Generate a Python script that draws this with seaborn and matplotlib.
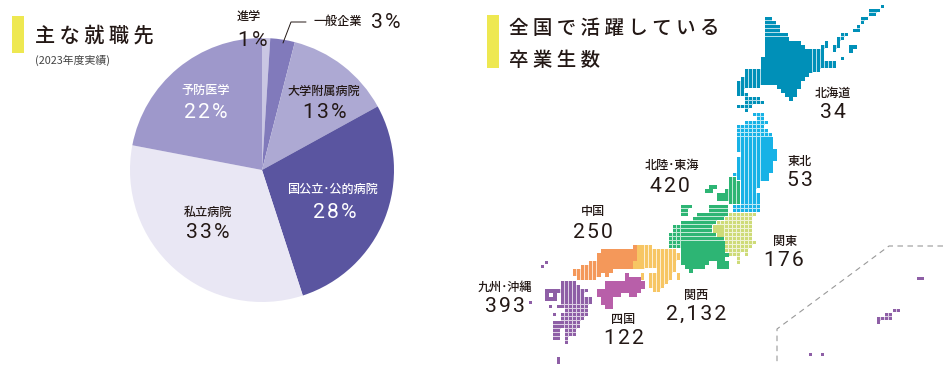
import numpy as np
import seaborn as sns
import matplotlib
matplotlib.use('Agg')
import matplotlib.pyplot as plt
from matplotlib.colors import ListedColormap, to_rgb
from matplotlib.patches import Rectangle

# pie data
job_names = ['進学', '一般企業', '大学附属病院', '国公立･公的病院', '私立病院', '予防医学']
job_share = [1, 3, 13, 28, 33, 22]
job_colors = ['#C9C6E3', '#817ABB', '#ADA9D3', '#5A55A0', '#E9E7F4', '#9E98CB']

# graduates by region
region_names = ['北海道', '東北', '北陸･東海', '中国', '九州･沖縄', '関東', '関西', '四国']
region_counts = ['34', '53', '420', '250', '393', '176', '2,132', '122']

# map cells: (row0, row1, col0, col1, mode)  g=grid h=hbars v=vbars s=solid
hokkaido = [
    (4, 4, 59, 60, 'h'), (5, 5, 59, 61, 'h'), (6, 7, 59, 62, 'h'), (8, 8, 59, 64, 'h'),
    (9, 9, 59, 64, 's'), (10, 10, 59, 67, 's'), (11, 11, 59, 68, 's'), (12, 13, 59, 70, 's'),
    (14, 17, 58, 70, 's'), (18, 18, 58, 69, 's'), (19, 19, 58, 68, 's'), (20, 20, 58, 67, 's'),
    (21, 21, 62, 67, 's'), (22, 22, 63, 66, 's'), (23, 23, 64, 66, 's'), (24, 24, 65, 65, 's'),
    (12, 17, 71, 72, 'v'), (11, 16, 73, 73, 'v'), (10, 11, 74, 74, 'v'), (15, 16, 74, 76, 'v'),
    (11, 12, 76, 76, 'v'), (9, 11, 77, 77, 'v'), (8, 8, 78, 79, 'g'), (9, 9, 78, 78, 'g'),
    (14, 14, 78, 78, 'g'), (11, 11, 80, 81, 's'), (12, 12, 80, 80, 's'), (7, 7, 81, 82, 'h'),
    (6, 6, 82, 82, 'g'), (5, 5, 83, 83, 'g'), (4, 4, 83, 84, 'h'), (3, 3, 85, 86, 'h'),
    (2, 2, 85, 87, 'h'), (1, 1, 88, 88, 'g'),
    (17, 21, 54, 57, 'v'), (19, 23, 53, 53, 'v'), (20, 23, 52, 52, 'v'),
    (23, 24, 54, 54, 'g'), (24, 24, 55, 57, 'g'), (25, 25, 54, 58, 'g'), (26, 26, 52, 55, 'g'),
    (27, 27, 54, 54, 'g'),
]
tohoku = [
    (28, 28, 56, 58, 'g'), (29, 29, 57, 58, 'g'), (30, 30, 54, 59, 'g'), (31, 31, 52, 58, 'g'),
    (32, 32, 52, 59, 'g'), (33, 33, 52, 60, 'g'),
    (34, 37, 52, 52, 'v'), (39, 44, 52, 52, 'v'), (34, 50, 53, 56, 'v'), (34, 46, 57, 57, 'v'),
    (48, 50, 57, 57, 'v'), (34, 36, 58, 60, 's'), (37, 39, 58, 61, 's'), (40, 42, 58, 60, 's'),
    (43, 44, 58, 59, 's'), (43, 43, 51, 51, 'v'), (51, 52, 51, 57, 'g'),
]
chubu = [
    (51, 51, 38, 40, 'h'), (52, 53, 38, 39, 'h'), (51, 52, 45, 49, 'h'), (53, 53, 42, 49, 'h'),
    (54, 54, 41, 48, 'h'), (55, 55, 38, 46, 'h'), (56, 57, 38, 45, 'h'), (58, 58, 38, 46, 'h'),
    (59, 59, 38, 48, 'h'), (56, 57, 36, 37, 'g'), (58, 61, 35, 37, 'g'),
    (60, 62, 38, 48, 's'), (63, 63, 38, 49, 's'), (64, 64, 38, 48, 's'), (65, 65, 38, 44, 's'),
    (65, 65, 47, 49, 's'), (66, 66, 39, 43, 's'), (66, 66, 47, 49, 's'), (67, 67, 40, 40, 's'),
    (44, 50, 50, 51, 'v'), (45, 50, 52, 52, 'v'), (47, 49, 49, 49, 's'), (48, 49, 47, 48, 's'),
    (46, 46, 45, 46, 's'), (47, 47, 44, 45, 's'),
]
kanto = [
    (53, 53, 50, 56, 'g'), (54, 54, 49, 55, 'g'), (55, 55, 47, 55, 'g'), (56, 57, 49, 55, 'g'),
    (56, 57, 46, 48, 's'), (58, 58, 47, 48, 's'), (58, 58, 49, 55, 'g'), (59, 59, 49, 55, 'g'),
    (60, 60, 49, 56, 'g'), (61, 61, 49, 55, 'g'), (62, 62, 49, 54, 'g'), (63, 63, 50, 52, 'g'),
    (63, 63, 54, 54, 'g'), (64, 65, 52, 52, 'g'),
]
kansai = [
    (61, 64, 27, 28, 's'), (65, 66, 26, 28, 's'), (61, 66, 29, 30, 'v'), (62, 66, 31, 31, 'v'),
    (62, 72, 32, 32, 'v'), (62, 71, 33, 33, 'v'), (62, 70, 34, 34, 'v'), (62, 69, 35, 35, 'v'),
    (62, 67, 36, 36, 'v'), (63, 64, 37, 37, 'v'), (68, 69, 37, 37, 'v'),
    (68, 69, 28, 28, 'v'), (68, 71, 30, 30, 'v'), (68, 72, 31, 31, 'v'),
]
chugoku = [
    (61, 61, 26, 26, 's'), (62, 62, 18, 26, 's'), (63, 63, 17, 26, 's'), (64, 64, 17, 26, 's'),
    (65, 66, 17, 25, 's'), (67, 67, 17, 20, 's'), (68, 68, 17, 17, 's'), (68, 68, 19, 19, 's'),
    (67, 68, 11, 11, 'v'), (67, 69, 12, 12, 'v'), (66, 69, 13, 14, 'v'), (65, 69, 15, 16, 'v'),
]
shikoku = [
    (68, 68, 24, 24, 's'), (69, 69, 24, 27, 's'), (70, 71, 19, 28, 's'), (72, 72, 17, 27, 's'),
    (73, 73, 17, 22, 's'), (73, 73, 25, 26, 's'), (74, 75, 18, 20, 's'), (76, 76, 19, 20, 's'),
]
kyushu = [
    (65, 65, 4, 4, 'g'), (66, 66, 3, 3, 'g'), (75, 75, 0, 0, 'g'),
    (70, 72, 8, 8, 'v'), (70, 75, 9, 11, 'v'), (71, 75, 12, 12, 'v'), (72, 75, 13, 13, 'v'),
    (72, 72, 14, 14, 'v'), (74, 75, 14, 15, 'v'),
    (72, 72, 4, 7, 's'), (73, 74, 4, 4, 's'), (73, 74, 6, 6, 's'), (74, 74, 5, 5, 's'),
    (73, 75, 8, 8, 'v'), (76, 76, 5, 5, 'g'), (76, 76, 7, 8, 'h'), (76, 77, 9, 14, 'g'),
    (78, 78, 6, 6, 'g'), (78, 78, 8, 14, 'g'), (79, 79, 8, 13, 'g'), (80, 81, 6, 8, 'h'),
    (80, 81, 9, 12, 'g'), (82, 83, 6, 7, 'h'), (82, 83, 9, 11, 'g'), (84, 84, 6, 7, 'h'),
    (84, 85, 9, 9, 'g'), (89, 90, 7, 7, 'v'),
    (69, 69, 97, 98, 'h'), (77, 77, 91, 92, 'g'), (78, 78, 89, 90, 'g'), (79, 79, 88, 90, 'g'),
    (79, 80, 87, 87, 'v'), (88, 88, 70, 70, 'g'), (88, 88, 73, 73, 'g'),
]
map_regions = [hokkaido, tohoku, chubu, kanto, kansai, chugoku, shikoku, kyushu]
map_colors = ['#0090B8', '#17B2E6', '#2DB574', '#CEDB78', '#F7C664', '#F4985A', '#B85FA9', '#8E5FA6']

W, H = 952, 372
N_ROWS, N_COLS = 92, 101
PX = 4
MAP_X, MAP_Y = 529, 0.7
N_REGIONS = len(map_regions)

sns.set_theme(style='white')
JP = ['Noto Sans CJK JP', 'DejaVu Sans']
NUM = ['Roboto', 'Noto Sans CJK JP', 'DejaVu Sans']
plt.rcParams['font.family'] = JP
INK = '#231815'


def px_axes(fig, x, y, w, h):
    return fig.add_axes([x / W, 1 - (y + h) / H, w / W, h / H])


# expand the cell lists to a pixel raster for the heatmap
cell_id = np.zeros((N_ROWS, N_COLS), dtype=int)
cell_mode = np.full((N_ROWS, N_COLS), '.', dtype='<U1')
for k, runs in enumerate(map_regions, start=1):
    for r0, r1, c0, c1, mode in runs:
        cell_id[r0:r1 + 1, c0:c1 + 1] = k
        cell_mode[r0:r1 + 1, c0:c1 + 1] = mode


def gap_value(r, c, k, m, dr, dc, ok):
    # what goes in the 1px gap towards a neighbour: full colour, a pale tint, or nothing
    rr, cc = r + dr, c + dc
    if rr >= N_ROWS or cc >= N_COLS or cell_id[rr, cc] == 0:
        return k if m == 's' else 0
    if cell_id[rr, cc] == k:
        return k if m in ok and cell_mode[rr, cc] in ok else k + N_REGIONS
    return k if m == 's' else 0


raster = np.zeros((N_ROWS * PX, N_COLS * PX))
for r, c in zip(*np.nonzero(cell_id)):
    k = cell_id[r, c]
    m = cell_mode[r, c]
    y, x = r * PX, c * PX
    raster[y:y + PX - 1, x:x + PX - 1] = k
    right = gap_value(r, c, k, m, 0, 1, 'hs')
    down = gap_value(r, c, k, m, 1, 0, 'vs')
    raster[y:y + PX - 1, x + PX - 1] = right
    raster[y + PX - 1, x:x + PX - 1] = down
    if right and down:
        raster[y + PX - 1, x + PX - 1] = max(right, down)

# gap pixels: region colour washed towards white, the way the source blurs them
tints = [tuple(0.3 * v + 0.7 for v in to_rgb(col)) for col in map_colors]
map_cmap = ListedColormap(map_colors + tints)

fig = plt.figure(figsize=(W / 100, H / 100), dpi=100, facecolor='white')

# pie
ax_pie = px_axes(fig, 130, 38, 264, 264)
ax_pie.pie(job_share, colors=sns.color_palette(job_colors), startangle=90, counterclock=False,
           radius=1.0, wedgeprops={'linewidth': 0})
ax_pie.set_xlim(-1, 1)
ax_pie.set_ylim(-1, 1)

# pixel map
ax_map = px_axes(fig, MAP_X, MAP_Y, N_COLS * PX, N_ROWS * PX)
sns.heatmap(raster, mask=raster == 0, cmap=map_cmap, vmin=0.5, vmax=2 * N_REGIONS + 0.5,
            cbar=False, xticklabels=False, yticklabels=False, ax=ax_map)
ax_map.patch.set_alpha(0)

# overlay in pixel coords for all text
ax = px_axes(fig, 0, 0, W, H)
ax.set_xlim(0, W)
ax.set_ylim(H, 0)
ax.axis('off')

ax.add_patch(Rectangle((12, 16), 12, 37, color='#EEE851', lw=0))
ax.add_patch(Rectangle((487, 15), 12, 53, color='#EEE851', lw=0))
ax.text(35, 36, '主 な 就 職 先', fontsize=14.5, color=INK, va='center', ha='left', weight='medium')
ax.text(35, 60, '(2023年度実績)', fontsize=7.8, color='#444444', va='center', ha='left')
ax.text(509, 28, '全 国 で 活 躍 し て い る', fontsize=14, color=INK, va='center', ha='left', weight='medium')
ax.text(509, 60, '卒 業 生 数', fontsize=14, color=INK, va='center', ha='left', weight='medium')


def label(x, y, name, value, y2, col=INK, x2=None):
    ax.text(x, y, name, fontsize=8.7, color=col, ha='center', va='center', weight='medium')
    ax.text(x if x2 is None else x2, y2, '\u200a'.join(value), fontsize=15.2, color=col, ha='center',
            va='center', family=NUM)


pie_pos = [(249, 16, 253, 40), None, (324, 91, 325, 112), (332, 189, 335, 212), (208, 212, 208, 233),
           (206, 90, 206, 113)]
pie_col = [INK, INK, INK, 'white', INK, 'white']
for name, share, pos, col in zip(job_names, job_share, pie_pos, pie_col):
    if pos is None:
        continue
    label(pos[0], pos[1], name, f'{share}%', pos[3], col=col, x2=pos[2])

# 一般企業 with leader
ax.text(338, 21, job_names[1], fontsize=8.7, color=INK, ha='center', va='center', weight='medium')
ax.text(386, 22, '\u200a'.join(f'{job_share[1]}%'), fontsize=15.2, color=INK, ha='center', va='center', family=NUM)
ax.plot([283, 291, 306], [43, 22, 22], color=INK, lw=0.7)

region_pos = [(833, 93, 833, 113), (800, 162, 800, 181), (672, 165, 670, 187), (593, 212, 593, 232),
              (505, 287, 505, 307), (785, 241, 784, 260), (696, 295, 696, 314), (623, 320, 624, 339)]
for name, count, (x, y, x2, y2) in zip(region_names, region_counts, region_pos):
    label(x, y, name, count, y2, x2=x2)

ax.plot([943, 889, 777, 777], [246, 246, 329, 362], color='#999999', lw=0.8, ls=(0, (5, 4)))

fig.savefig('out.png', dpi=100)
